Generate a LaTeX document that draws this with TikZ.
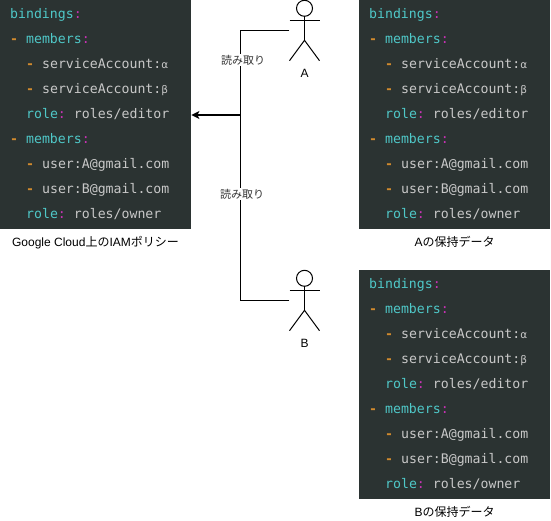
\documentclass[tikz,border=0pt]{standalone}
\usepackage{fontspec}
\usetikzlibrary{arrows.meta,calc}
\setmainfont{Liberation Sans}
\newfontfamily\codefont{DejaVu Sans Mono}
\newfontfamily\cjkfont{Noto Sans CJK JP}
\newfontfamily\greekfont{DejaVu Sans}
\definecolor{panelbg}{HTML}{2B3332}
\definecolor{codekey}{HTML}{4FC8C8}
\definecolor{codepunct}{HTML}{C832B4}
\definecolor{codedash}{HTML}{D08A2E}
\definecolor{codetext}{HTML}{C8C8C8}
\newcommand{\ky}[1]{\textcolor{codekey}{#1}}
\newcommand{\cl}{\textcolor{codepunct}{:}}
\newcommand{\ds}{\textcolor{codedash}{\textbf{-}}}
\newcommand{\sk}{\hspace*{8pt}}
\newcommand{\greek}[1]{{\fontsize{10.5}{25}\greekfont #1}}
\newcommand{\yamltext}{%
\ky{bindings}\cl\\
\ds\sk\ky{members}\cl\\
\sk\sk\ds\sk serviceAccount:\greek{α}\\
\sk\sk\ds\sk serviceAccount:\greek{β}\\
\sk\sk\ky{role}\cl\sk roles/editor\\
\ds\sk\ky{members}\cl\\
\sk\sk\ds\sk user:A@gmail.com\\
\sk\sk\ds\sk user:B@gmail.com\\
\sk\sk\ky{role}\cl\sk roles/owner\par\vspace*{1pt}}
\tikzset{
  panel/.style={anchor=north west,fill=panelbg,text=codetext,align=left,inner sep=0pt,
    text width=171pt,inner xsep=10pt,minimum width=191pt,minimum height=229pt,
    font=\fontsize{13.2}{25.08}\codefont},
  caption/.style={font=\fontsize{12}{14}\selectfont,inner sep=0pt,text=black},
  edgelabel/.style={font=\fontsize{11}{13}\cjkfont,fill=white,inner sep=1pt,text=black!80},
  actorbox/.style={minimum width=30pt,minimum height=60pt,inner sep=0pt},
  stick/.style={draw=black,line width=1pt},
  link/.style={draw=black,line width=1pt},
  mainarrow/.style={draw=black,line width=1.5pt,-{Stealth[length=8pt,width=8pt,inset=2pt]}},
}
\newcommand{\stickman}[1]{%
  \draw[stick] ($(#1.north)+(0,8)$) circle[radius=8pt];
  \draw[stick] ($(#1.north)+(0,16)$) -- ($(#1.north)+(0,40)$);
  \draw[stick] ($(#1.north)+(-15,20)$) -- ($(#1.north)+(15,20)$);
  \draw[stick] ($(#1.south)+(-15,0)$) -- ($(#1.north)+(0,40)$) -- ($(#1.south)+(15,0)$);
}
\begin{document}
\begin{tikzpicture}[x=1pt,y=-1pt]
\useasboundingbox (0,0) rectangle (551,521);
\node[panel] (policy) at (0,0) {\yamltext};
\node[panel] (dataA) at (359,0) {\yamltext};
\node[panel] (dataB) at (359,270) {\yamltext};
\node[caption] (policycap) at (95.5,243) {Google Cloud{\cjkfont 上の}IAM{\cjkfont ポリシー}};
\node[caption] (dataAcap) at (454.5,242) {A{\cjkfont の保持データ}};
\node[caption] (dataBcap) at (454.5,512) {B{\cjkfont の保持データ}};
\node[actorbox] (actorA) at (304.5,30.5) {};
\node[actorbox] (actorB) at (304.5,300.5) {};
\stickman{actorA}
\stickman{actorB}
\node[caption] (nameA) at (304.5,73.5) {A};
\node[caption] (nameB) at (304.5,343.5) {B};
\coordinate (junction) at (240.5,115);
\draw[link] (actorA.west) -| (junction);
\draw[link] (actorB.west) -| (junction);
\draw[mainarrow] (junction) -- (policy.east |- junction);
\node[edgelabel] (readA) at (243,60) {読み取り};
\node[edgelabel] (readB) at (242,194) {読み取り};
\end{tikzpicture}
\end{document}
